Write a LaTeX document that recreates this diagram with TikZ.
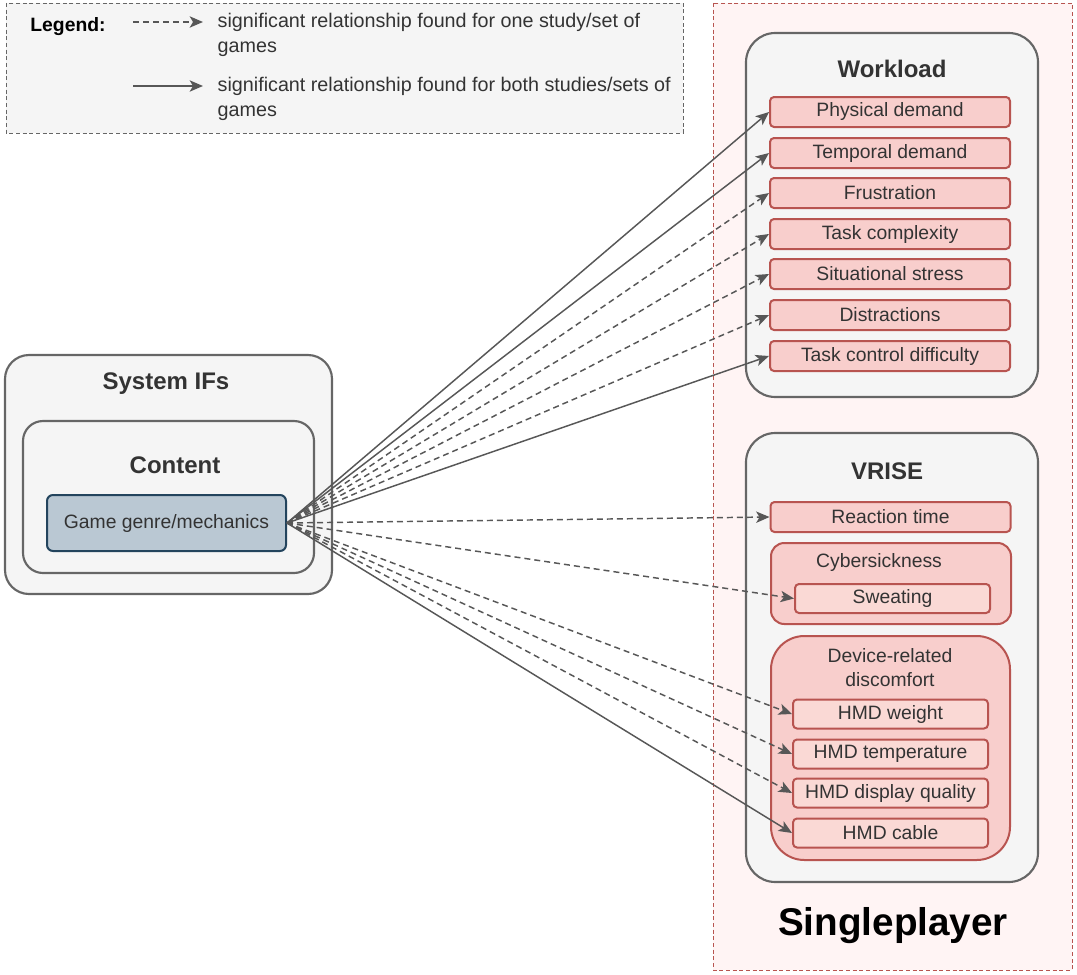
\documentclass[tikz,border=0pt]{standalone}
\usepackage{fontspec}
\setmainfont{Liberation Sans}
\usepackage{tikz}
\usetikzlibrary{arrows,arrows.meta}
\definecolor{grayline}{HTML}{666666}
\definecolor{grayfill}{HTML}{F5F5F5}
\definecolor{redline}{HTML}{B85450}
\definecolor{redfill}{HTML}{F8CECC}
\definecolor{redlight}{HTML}{FAD9D5}
\definecolor{blueline}{HTML}{23445D}
\definecolor{bluefill}{HTML}{BAC8D3}
\definecolor{spfill}{HTML}{FFF4F4}
\definecolor{arrowgray}{HTML}{575757}
\definecolor{textgray}{HTML}{333333}
\tikzstyle{rel}=[->, >={Stealth[length=10pt,width=8.5pt,inset=2.5pt]}, draw=arrowgray, line width=1.1pt]
\tikzstyle{relone}=[rel, dash pattern=on 4.5pt off 3pt]

\begin{document}
\begin{tikzpicture}[x=0.75pt,y=-0.75pt,
    grp/.style={draw=grayline,fill=grayfill,line width=1.6pt},
    title/.style={font=\fontsize{18}{21}\selectfont\bfseries,text=textgray},
    item/.style={rectangle,rounded corners=3pt,draw=redline,fill=redfill,line width=1.5pt,
      minimum width=180pt,minimum height=22.5pt,inner sep=0pt,
      font=\fontsize{14.5}{17}\selectfont,text=textgray},
    hmd/.style={item,fill=redlight,minimum width=146.25pt,minimum height=21.75pt},
    redgrp/.style={draw=redline,fill=redfill,line width=1.5pt},
    legtext/.style={anchor=west,align=left,font=\fontsize{14.8}{18.75}\selectfont,text=textgray}]
  \useasboundingbox (0,0) rectangle (1077,974);

  % legend
  \draw[grayline,fill=grayfill,line width=0.6pt,dash pattern=on 3pt off 2pt] (6,3) rectangle (683,133);
  \node[font=\fontsize{14.5}{17}\selectfont\bfseries] (leg) at (68,27) {Legend:};
  \coordinate (l1a) at (133,22);
  \coordinate (l1b) at (203,22);
  \coordinate (l2a) at (133,86);
  \coordinate (l2b) at (203,86);
  \draw[relone] (l1a) -- (l1b);
  \draw[rel] (l2a) -- (l2b);
  \node[legtext] (lone) at (213,35) {significant relationship found for one study/set of\\games};
  \node[legtext] (lboth) at (213,99) {significant relationship found for both studies/sets of\\games};

  % singleplayer area
  \draw[redline,fill=spfill,line width=0.6pt,dash pattern=on 3pt off 2pt] (713,3) rectangle (1072,970);
  \node[font=\fontsize{29}{34}\selectfont\bfseries] (sp) at (893,926) {Singleplayer};

  % system influencing factors
  \draw[grp,rounded corners=18pt] (5,355) rectangle (332,594);
  \node[title] (sys) at (166,384) {System IFs};
  \draw[grp,rounded corners=15pt] (23,421) rectangle (314,573);
  \node[title] (cont) at (175,465) {Content};
  \node[rectangle,rounded corners=4.5pt,draw=blueline,fill=bluefill,line width=1.5pt,
    minimum width=179.25pt,minimum height=42pt,inner sep=0pt,
    font=\fontsize{14.5}{17}\selectfont,text=textgray] (gg) at (166.5,523) {Game genre/mechanics};

  % workload
  \draw[grp,rounded corners=22pt] (746,33) rectangle (1038,397);
  \node[title] (wl) at (892,69) {Workload};
  \node[item] (pd) at (890,112) {Physical demand};
  \node[item] (td) at (890,153) {Temporal demand};
  \node[item] (fr) at (890,193) {Frustration};
  \node[item] (tc) at (890,234) {Task complexity};
  \node[item] (ss) at (890,274) {Situational stress};
  \node[item] (di) at (890,315) {Distractions};
  \node[item] (tcd) at (890,356) {Task control difficulty};

  % vrise
  \draw[grp,rounded corners=22pt] (746,433) rectangle (1038,882);
  \node[title] (vr) at (887,471) {VRISE};
  \node[item] (rt) at (890.5,517) {Reaction time};
  \draw[redgrp,rounded corners=10pt] (771,543) rectangle (1011,624);
  \node[font=\fontsize{14.5}{17}\selectfont,text=textgray] (cs) at (879,562) {Cybersickness};
  \node[hmd] (sw) at (892.5,598.5) {Sweating};
  \draw[redgrp,rounded corners=25pt] (771,636) rectangle (1010,860);
  \node[align=center,font=\fontsize{14.5}{18}\selectfont,text=textgray] (dd) at (890,668) {Device-related\\discomfort};
  \node[hmd] (hw) at (890.5,714) {HMD weight};
  \node[hmd] (ht) at (890.5,754) {HMD temperature};
  \node[hmd] (hq) at (890.5,793) {HMD display quality};
  \node[hmd] (hc) at (890.5,833) {HMD cable};

  \path
    (gg.east) edge [rel] (pd.west)
    (gg.east) edge [rel] (td.west)
    (gg.east) edge [relone] (fr.west)
    (gg.east) edge [relone] (tc.west)
    (gg.east) edge [relone] (ss.west)
    (gg.east) edge [relone] (di.west)
    (gg.east) edge [rel] (tcd.west)
    (gg.east) edge [relone] (rt.west)
    (gg.east) edge [relone] (sw.west)
    (gg.east) edge [relone] (hw.west)
    (gg.east) edge [relone] (ht.west)
    (gg.east) edge [relone] (hq.west)
    (gg.east) edge [rel] (hc.west);
\end{tikzpicture}
\end{document}
